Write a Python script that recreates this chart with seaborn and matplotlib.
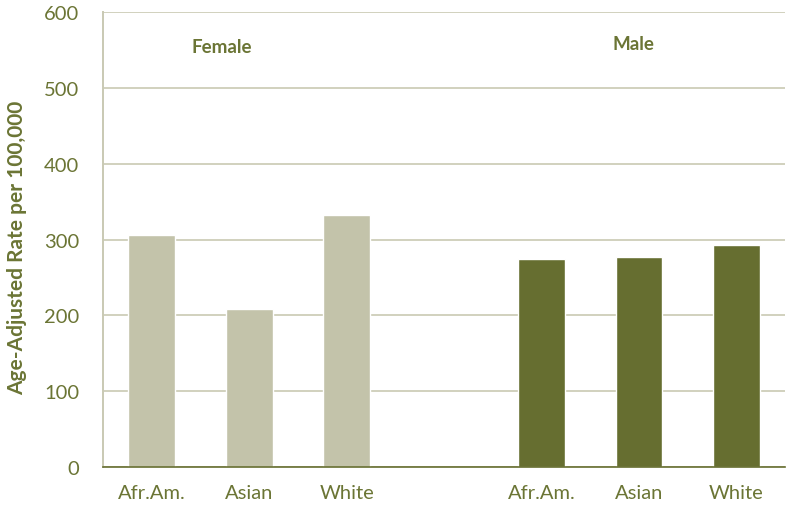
import pandas as pd
import seaborn as sns
import matplotlib.pyplot as plt

# Data
groups = ["Afr.Am.", "Asian", "White"]
female_rates = [306, 208, 332]
male_rates = [274, 277, 293]

slots = ["F Afr.Am.", "F Asian", "F White", "gap", "M Afr.Am.", "M Asian", "M White"]
tick_labels = groups + [""] + groups

df = pd.DataFrame({
    "slot": slots[:3] + slots[4:],
    "sex": ["Female"] * 3 + ["Male"] * 3,
    "rate": female_rates + male_rates,
})

olive = "#666e30"
light = "#c3c3aa"
grid_col = "#c9c9b3"
text_col = "#6b7535"

sns.set_style("white")
plt.rcParams["font.family"] = ["Lato", "DejaVu Sans"]

fig = plt.figure(figsize=(7.86, 5.06), dpi=100)
ax = fig.add_axes([0.131, 0.075, 0.868, 0.899])

sns.barplot(data=df, x="slot", y="rate", hue="sex", order=slots,
            palette={"Female": light, "Male": olive}, dodge=False,
            width=0.48, legend=False, ax=ax, saturation=1)

ax.set_ylim(0, 600)
ax.set_xlim(-0.5, 6.5)
ax.set_yticks(range(0, 601, 100))
ax.yaxis.grid(True, color=grid_col, linewidth=1.2)
ax.set_axisbelow(True)
ax.set_xticks(range(7))
ax.set_xticklabels(tick_labels)
ax.tick_params(axis="both", length=0, labelsize=14.5, labelcolor=text_col)
ax.tick_params(axis="x", pad=12)
ax.tick_params(axis="y", pad=17)

for s in ["top", "right"]:
    ax.spines[s].set_visible(False)
ax.spines["left"].set_color(grid_col)
ax.spines["left"].set_linewidth(1.4)
ax.spines["bottom"].set_color(olive)
ax.spines["bottom"].set_linewidth(1.2)

ax.set_xlabel("")
ax.set_ylabel("Age-Adjusted Rate per 100,000", fontsize=15, fontweight="bold",
              color=text_col)
ax.yaxis.set_label_coords(-0.111, 0.485)

ax.text(0.72, 555, "Female", ha="center", va="center", fontsize=13.5,
        fontweight="bold", color=text_col)
ax.text(4.94, 558, "Male", ha="center", va="center", fontsize=13.5,
        fontweight="bold", color=text_col)

plt.savefig("out.png", dpi=100)
